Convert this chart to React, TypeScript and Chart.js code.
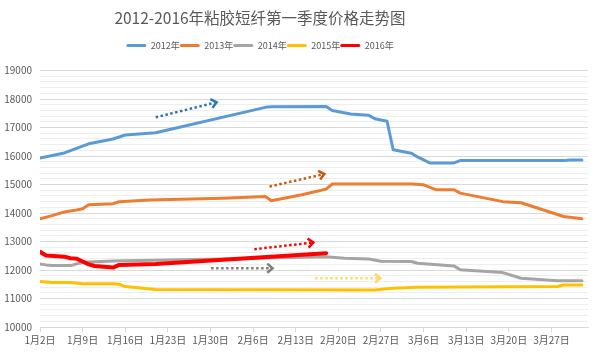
import React, { useEffect, useRef } from "react";
import { Chart, registerables } from "chart.js";

Chart.register(...registerables);

// ---- data (day index counted from Jan 2) ----
const seriesNames = ["2012年", "2013年", "2014年", "2015年", "2016年"];
const seriesColors = ["#5B9BD5", "#ED7D31", "#A5A5A5", "#FFC000", "#FF0000"];

const days2012 = [0, 4, 8, 12, 14, 19, 37, 38, 47, 48, 51, 54, 55, 57, 58, 61, 62, 64, 68, 69, 86, 87, 89];
const price2012 = [15930, 16110, 16430, 16600, 16740, 16820, 17710, 17730, 17740, 17600, 17480, 17430, 17310, 17220, 16220, 16100, 15970, 15760, 15760, 15840, 15840, 15860, 15860];

const days2013 = [0, 2, 4, 6, 7, 8, 12, 13, 18, 30, 37, 38, 43, 47, 48, 61, 63, 65, 68, 69, 76, 79, 86, 89];
const price2013 = [13800, 13910, 14040, 14110, 14150, 14290, 14330, 14395, 14460, 14520, 14580, 14430, 14640, 14840, 15020, 15020, 14990, 14820, 14820, 14700, 14400, 14360, 13880, 13800];

const days2014 = [0, 1, 2, 5, 7, 12, 30, 47, 50, 54, 56, 61, 62, 68, 69, 76, 79, 85, 89];
const price2014 = [12215, 12180, 12155, 12155, 12275, 12320, 12390, 12470, 12410, 12390, 12310, 12300, 12240, 12145, 12010, 11910, 11710, 11620, 11620];

const days2015 = [0, 2, 5, 7, 12, 13, 14, 19, 55, 57, 58, 62, 85, 86, 89];
const price2015 = [11595, 11560, 11560, 11520, 11520, 11500, 11420, 11320, 11300, 11340, 11360, 11395, 11420, 11475, 11475];

const days2016 = [0, 1, 4, 5, 6, 7, 8, 9, 12, 13, 19, 47];
const price2016 = [12640, 12510, 12470, 12415, 12400, 12300, 12200, 12140, 12085, 12180, 12215, 12590];

const xTickLabels = ["1月2日", "1月9日", "1月16日", "1月23日", "1月30日", "2月6日", "2月13日", "2月20日", "2月27日", "3月6日", "3月13日", "3月20日", "3月27日"];

// trend arrows (dotted) in data units
const arrowFromDay = [19, 37.7, 35.2, 28.1, 45.2];
const arrowFromVal = [17360, 14930, 12730, 12065, 11710];
const arrowToDay = [29, 46.7, 44.9, 38.2, 55.9];
const arrowToVal = [17890, 15370, 12965, 12065, 11710];
const arrowColors = ["#2E75B6", "#C55A11", "#FF0000", "#7F7F7F", "#FFD966"];

const allDays = [days2012, days2013, days2014, days2015, days2016];
const allPrices = [price2012, price2013, price2014, price2015, price2016];
const lineWidths = [3, 3, 3, 3, 4];

const FONT = "'Noto Sans CJK SC', 'Noto Sans', sans-serif";
const TEXT = "#595959";
const HEADER_SHIFT = 34;

const arrowPlugin = {
  id: "trendArrows",
  afterDatasetsDraw(chart: any) {
    const { ctx, scales } = chart;
    const xs = scales.x;
    const ys = scales.y;
    for (let i = 0; i < arrowFromDay.length; i++) {
      const x1 = xs.getPixelForValue(arrowFromDay[i]);
      const y1 = ys.getPixelForValue(arrowFromVal[i]);
      const x2 = xs.getPixelForValue(arrowToDay[i]);
      const y2 = ys.getPixelForValue(arrowToVal[i]);
      const ang = Math.atan2(y2 - y1, x2 - x1);
      ctx.save();
      ctx.strokeStyle = arrowColors[i];
      ctx.lineWidth = 2.5;
      ctx.setLineDash([2.5, 2.5]);
      ctx.beginPath();
      ctx.moveTo(x1, y1);
      ctx.lineTo(x2 - 2 * Math.cos(ang), y2 - 2 * Math.sin(ang));
      ctx.stroke();
      ctx.setLineDash([]);
      const len = 7;
      const spread = 0.7;
      ctx.beginPath();
      ctx.moveTo(x2 - len * Math.cos(ang - spread), y2 - len * Math.sin(ang - spread));
      ctx.lineTo(x2, y2);
      ctx.lineTo(x2 - len * Math.cos(ang + spread), y2 - len * Math.sin(ang + spread));
      ctx.stroke();
      ctx.restore();
    }
  },
};

const headerPlugin = {
  id: "headerLayout",
  beforeInit(chart: any) {
    const orig = chart.legend.fit;
    chart.legend.fit = function () {
      orig.call(this);
      this.height += 10.5;
    };
  },
  afterLayout(chart: any) {
    if (chart.titleBlock) {
      chart.titleBlock.left -= HEADER_SHIFT;
      chart.titleBlock.right -= HEADER_SHIFT;
    }
    if (chart.legend) {
      chart.legend.left -= HEADER_SHIFT;
      chart.legend.right -= HEADER_SHIFT;
    }
  },
};

export default function App() {
  const ref = useRef<HTMLCanvasElement | null>(null);

  useEffect(() => {
    if (!ref.current) return;
    const datasets = seriesNames.map((name, i) => ({
      label: name,
      data: allDays[i].map((d, k) => ({ x: d, y: allPrices[i][k] })),
      borderColor: seriesColors[i],
      backgroundColor: seriesColors[i],
      borderWidth: lineWidths[i],
      pointRadius: 0,
      tension: 0,
      borderJoinStyle: "round" as const,
      borderCapStyle: "round" as const,
      order: seriesNames.length - i,
    }));

    const chart = new Chart(ref.current, {
      type: "line",
      data: { datasets },
      options: {
        animation: false,
        responsive: false,
        layout: { padding: { left: 0, right: 12, top: 0, bottom: 0 } },
        plugins: {
          tooltip: { enabled: false },
          title: {
            display: true,
            text: "2012-2016年粘胶短纤第一季度价格走势图",
            color: TEXT,
            font: { family: FONT, size: 15.5, weight: "normal" },
            padding: { top: 8.5, bottom: 14 },
          },
          legend: {
            display: true,
            position: "top",
            labels: {
              color: TEXT,
              font: { family: FONT, size: 9 },
              boxWidth: 20,
              boxHeight: 3,
              padding: 0,
              generateLabels(c: any) {
                const items = Chart.defaults.plugins.legend.labels.generateLabels(c);
                items.sort((a: any, b: any) => a.datasetIndex - b.datasetIndex);
                items.forEach((it: any) => {
                  it.lineWidth = 0;
                  it.borderRadius = 1.5;
                });
                return items;
              },
            },
          },
        },
        scales: {
          x: {
            type: "linear",
            min: 0,
            max: 90,
            afterFit(scale: any) {
              scale.height = 27;
            },
            border: { display: true, color: "#D9D9D9", width: 1 },
            grid: { display: true, drawOnChartArea: false, drawTicks: true, tickLength: 5, color: "#D9D9D9" },
            ticks: {
              stepSize: 7,
              includeBounds: false,
              autoSkip: false,
              maxRotation: 0,
              padding: 2,
              color: TEXT,
              font: { family: FONT, size: 10 },
              callback: (v: any) => {
                const idx = Math.round(Number(v) / 7);
                return Number(v) % 7 === 0 ? xTickLabels[idx] ?? "" : "";
              },
            },
          },
          y: {
            type: "linear",
            min: 10000,
            max: 19000,
            afterFit(scale: any) {
              scale.width = 40;
            },
            border: { display: false },
            grid: {
              drawTicks: false,
              color: (ctx: any) => (ctx.tick && ctx.tick.value % 1000 === 0 ? "#D9D9D9" : "#EEEEEE"),
              lineWidth: 1,
            },
            ticks: {
              stepSize: 200,
              autoSkip: false,
              padding: 8,
              color: TEXT,
              font: { family: FONT, size: 10 },
              callback: (v: any) => (Number(v) % 1000 === 0 ? String(v) : ""),
            },
          },
        },
      },
      plugins: [arrowPlugin, headerPlugin],
    });
    return () => chart.destroy();
  }, []);

  return (
    <div style={{ position: "absolute", left: 0, top: 0, width: 600, height: 354, background: "#fff" }}>
      <canvas ref={ref} width={600} height={354} />
    </div>
  );
}
